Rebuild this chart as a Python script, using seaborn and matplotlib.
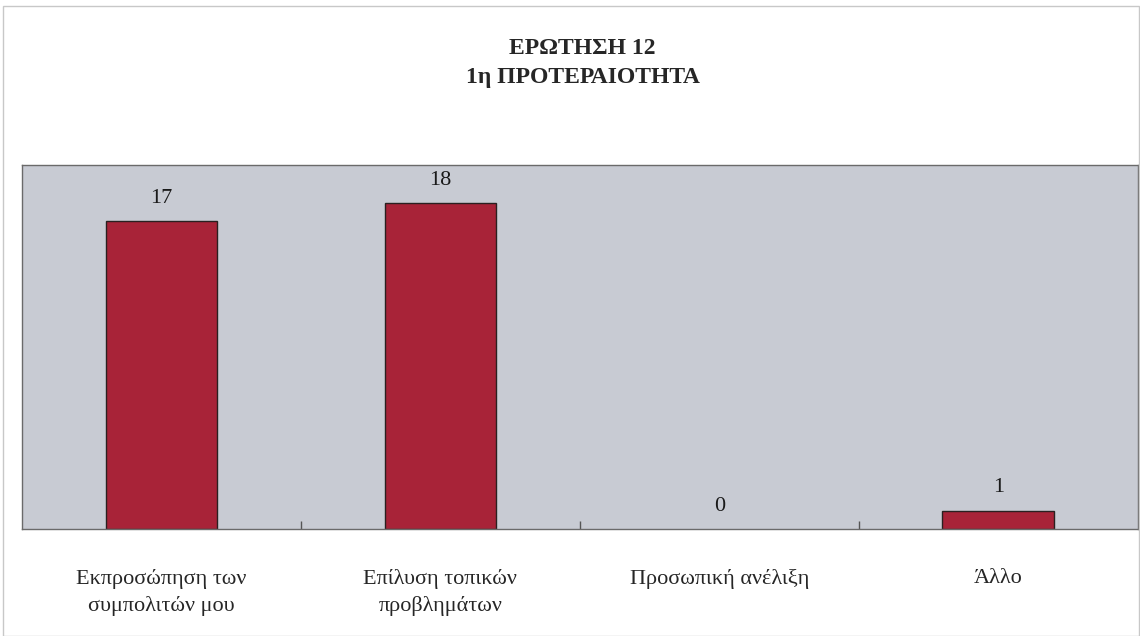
import matplotlib
matplotlib.use("Agg")
import matplotlib.pyplot as plt
import seaborn as sns
import pandas as pd

categories = ['Εκπροσώπηση των\nσυμπολιτών μου', 'Επίλυση τοπικών\nπροβλημάτων',
              'Προσωπική ανέλιξη', 'Άλλο']
counts = [17, 18, 0, 1]
title_text = 'ΕΡΩΤΗΣΗ 12\n1η ΠΡΟΤΕΡΑΙΟΤΗΤΑ'

sns.set_style("white")
plt.rcParams['font.family'] = ['Liberation Serif', 'DejaVu Serif']

df = pd.DataFrame({'category': categories, 'count': counts})

fig = plt.figure(figsize=(11.4, 6.36), dpi=100)
ax = fig.add_axes([0.0193, 0.168, 0.9787, 0.5723])
ax.set_facecolor('#c8cbd3')

sns.barplot(data=df, x='category', y='count', ax=ax, color='#a82338',
            saturation=1, width=0.4, edgecolor='#2a2020', linewidth=1)

# hide the edge of the empty bar
for patch, val in zip(ax.patches, counts):
    if val == 0:
        patch.set_linewidth(0)
    ax.text(patch.get_x() + patch.get_width() / 2, val + 0.75, str(val),
            ha='center', va='bottom', fontsize=16, color='#1a1a1a')

ax.set_ylim(0, 20.1)
ax.set_xlim(-0.5, 3.5)
ax.set_yticks([])
ax.set_xlabel('')
ax.set_ylabel('')
ax.tick_params(axis='x', which='major', length=0, pad=29, labelsize=16)
for lbl in ax.get_xticklabels():
    lbl.set_linespacing(1.45)
ax.set_xticks([0.5, 1.5, 2.5], minor=True)
ax.tick_params(axis='x', which='minor', bottom=True, direction='in', length=6,
               width=1, color='#555555')
for side in ['left', 'right', 'top', 'bottom']:
    ax.spines[side].set_visible(True)
    ax.spines[side].set_color('#6a6a6a')
    ax.spines[side].set_linewidth(1)

fig.text(0.511, 0.901, title_text, ha='center', va='center', fontsize=17,
         fontweight='bold', linespacing=1.45)

# thin frame round the figure
fig.patches.append(plt.Rectangle((0.003, 0.0), 0.996, 0.99, transform=fig.transFigure,
                                 fill=False, edgecolor='#c8c8c8', linewidth=1))

fig.savefig('out.png', dpi=100)
